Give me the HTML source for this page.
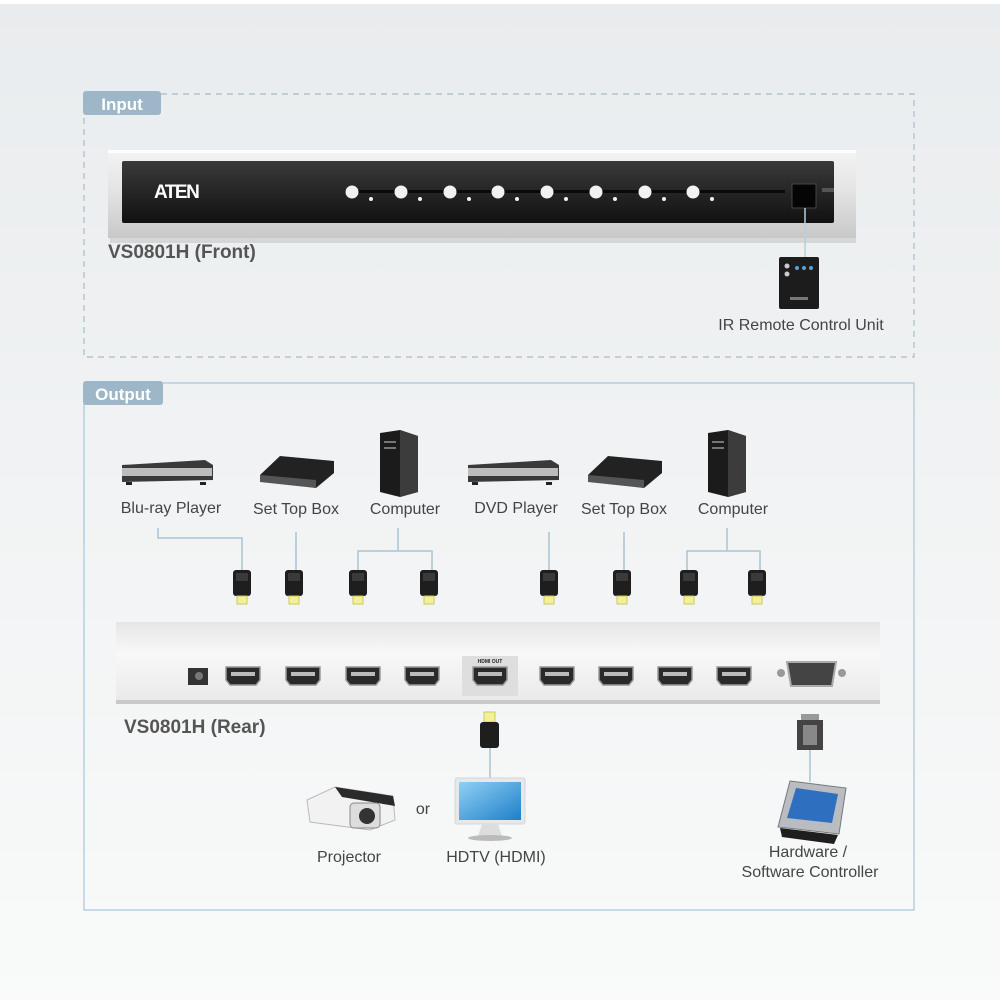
<!DOCTYPE html>
<html><head><meta charset="utf-8"><style>
html,body{margin:0;padding:0;width:1000px;height:1000px;overflow:hidden}
svg{display:block}
text{font-family:"Liberation Sans",sans-serif}
</style></head><body>
<svg width="1000" height="1000" viewBox="0 0 1000 1000" xmlns="http://www.w3.org/2000/svg">
<defs>
<linearGradient id="bg" x1="0" y1="0" x2="0" y2="1"><stop offset="0" stop-color="#e9ecee"/><stop offset="1" stop-color="#f9fafa"/></linearGradient>
<linearGradient id="silver" x1="0" y1="0" x2="0" y2="1"><stop offset="0" stop-color="#f4f4f4"/><stop offset="0.5" stop-color="#e2e2e2"/><stop offset="1" stop-color="#c8c8c8"/></linearGradient>
<linearGradient id="dark" x1="0" y1="0" x2="0" y2="1"><stop offset="0" stop-color="#3a3a3a"/><stop offset="1" stop-color="#111"/></linearGradient>
<linearGradient id="rear" x1="0" y1="0" x2="0" y2="1"><stop offset="0" stop-color="#e6e6e6"/><stop offset="0.4" stop-color="#f8f8f8"/><stop offset="1" stop-color="#e9e9e9"/></linearGradient>
<linearGradient id="scr" x1="0" y1="0" x2="1" y2="1"><stop offset="0" stop-color="#8fd0f5"/><stop offset="1" stop-color="#1f7fc8"/></linearGradient>
<g id="hdmi"><rect x="-9" y="-14" width="18" height="26" rx="3" fill="#1e1e1e"/><rect x="-6" y="-11" width="12" height="8" fill="#3a3a3a"/><rect x="-5" y="12" width="10" height="8" fill="#f3f09a" stroke="#cfc95a" stroke-width="1"/></g>
<g id="port"><path d="M-17,-9 H17 V4 L13,9 H-13 L-17,4 Z" fill="#2a2a2a" stroke="#999" stroke-width="1.5"/><rect x="-12" y="-4" width="24" height="4" fill="#bbb"/></g>
</defs>
<rect width="1000" height="1000" fill="url(#bg)"/>
<rect x="0" y="0" width="1000" height="4" fill="#fff"/>

<rect x="84" y="94" width="830" height="263" fill="none" stroke="#a9bccb" stroke-width="1.2" stroke-dasharray="6,5"/>
<rect x="83" y="91" width="78" height="24" rx="3" fill="#9db7c9"/>
<text x="122" y="110" font-size="17" font-weight="bold" fill="#fff" text-anchor="middle">Input</text>

<rect x="110" y="238" width="746" height="5" fill="#d4d6d8"/>
<rect x="108" y="150" width="748" height="88" fill="url(#silver)"/>
<rect x="108" y="150" width="748" height="3" fill="#fff"/>
<rect x="122" y="161" width="712" height="62" rx="2" fill="url(#dark)"/>
<text x="154" y="198" font-size="19" font-weight="bold" fill="#fff" letter-spacing="-1.5">ATEN</text>
<rect x="345" y="190" width="440" height="3" fill="#0a0a0a"/>
<g fill="#f2f2f2">
<circle cx="352" cy="192" r="6.5"/><circle cx="401" cy="192" r="6.5"/><circle cx="450" cy="192" r="6.5"/><circle cx="498" cy="192" r="6.5"/>
<circle cx="547" cy="192" r="6.5"/><circle cx="596" cy="192" r="6.5"/><circle cx="645" cy="192" r="6.5"/><circle cx="693" cy="192" r="6.5"/>
<circle cx="371" cy="199" r="2"/><circle cx="420" cy="199" r="2"/><circle cx="469" cy="199" r="2"/><circle cx="517" cy="199" r="2"/>
<circle cx="566" cy="199" r="2"/><circle cx="615" cy="199" r="2"/><circle cx="664" cy="199" r="2"/><circle cx="712" cy="199" r="2"/>
</g>
<rect x="792" y="184" width="24" height="24" fill="#050505" stroke="#444"/>
<rect x="822" y="188" width="12" height="4" fill="#555"/>
<text x="108" y="258" font-size="19" font-weight="bold" fill="#555">VS0801H (Front)</text>
<line x1="805" y1="208" x2="805" y2="258" stroke="#b8cfdc" stroke-width="1.5"/>
<rect x="779" y="257" width="40" height="52" rx="2" fill="#1c1c1c"/>
<circle cx="787" cy="266" r="2.5" fill="#ccc"/><circle cx="787" cy="274" r="2.5" fill="#ccc"/>
<g fill="#5aa0d0"><circle cx="797" cy="268" r="2"/><circle cx="804" cy="268" r="2"/><circle cx="811" cy="268" r="2"/></g>
<rect x="790" y="297" width="18" height="3" fill="#777"/>
<text x="801" y="330" font-size="16" fill="#444" text-anchor="middle">IR Remote Control Unit</text>

<rect x="84" y="383" width="830" height="527" fill="none" stroke="#a9c6d8" stroke-width="1.2"/>
<rect x="83" y="381" width="80" height="24" rx="3" fill="#9db7c9"/>
<text x="123" y="400" font-size="17" font-weight="bold" fill="#fff" text-anchor="middle">Output</text>

<g id="bd"><path d="M122,465 L205,460 L213,465 L213,480 L122,482 Z" fill="#3a3a3a"/><rect x="122" y="468" width="90" height="8" fill="#bdbdbd"/><rect x="126" y="482" width="6" height="3" fill="#222"/><rect x="200" y="482" width="6" height="3" fill="#222"/></g>
<path d="M260,475 L280,456 L334,461 L334,473 L316,488 L260,480 Z" fill="#222"/><path d="M260,475 L316,480 L316,488 L260,482Z" fill="#555"/>
<path d="M380,433 L400,430 L418,436 L418,492 L400,497 L380,492 Z" fill="#1b1b1b"/><path d="M400,430 L418,436 L418,492 L400,497Z" fill="#3c3c3c"/><rect x="384" y="441" width="12" height="2" fill="#777"/><rect x="384" y="447" width="12" height="2" fill="#777"/>
<use href="#bd" transform="translate(346,0)"/>
<path d="M588,475 L608,456 L662,461 L662,473 L644,488 L588,480 Z" fill="#222"/><path d="M588,475 L644,480 L644,488 L588,482Z" fill="#555"/>
<path d="M708,433 L728,430 L746,436 L746,492 L728,497 L708,492 Z" fill="#1b1b1b"/><path d="M728,430 L746,436 L746,492 L728,497Z" fill="#3c3c3c"/><rect x="712" y="441" width="12" height="2" fill="#777"/><rect x="712" y="447" width="12" height="2" fill="#777"/>

<g font-size="16" fill="#444" text-anchor="middle">
<text x="171" y="513">Blu-ray Player</text><text x="296" y="514">Set Top Box</text><text x="405" y="514">Computer</text>
<text x="516" y="513">DVD Player</text><text x="624" y="514">Set Top Box</text><text x="733" y="514">Computer</text>
</g>
<g stroke="#a9c3d3" stroke-width="1.5" fill="none">
<path d="M158,528 V538 H242 V570"/><path d="M296,532 V570"/><path d="M398,528 V551 M358,570 V551 H432 V570"/>
<path d="M549,532 V570"/><path d="M624,532 V570"/><path d="M727,528 V551 M687,570 V551 H760 V570"/>
</g>
<use href="#hdmi" transform="translate(242,584)"/><use href="#hdmi" transform="translate(294,584)"/><use href="#hdmi" transform="translate(358,584)"/><use href="#hdmi" transform="translate(429,584)"/>
<use href="#hdmi" transform="translate(549,584)"/><use href="#hdmi" transform="translate(622,584)"/><use href="#hdmi" transform="translate(689,584)"/><use href="#hdmi" transform="translate(757,584)"/>

<rect x="116" y="622" width="764" height="80" fill="url(#rear)"/>
<rect x="116" y="700" width="764" height="4" fill="#c9c9c9"/>
<rect x="188" y="668" width="20" height="17" fill="#333"/><circle cx="199" cy="676" r="4" fill="#777"/>
<rect x="462" y="656" width="56" height="40" fill="#dedede"/>
<text x="490" y="663" font-size="5" font-weight="bold" fill="#222" text-anchor="middle">HDMI OUT</text>
<use href="#port" transform="translate(243,676)"/><use href="#port" transform="translate(303,676)"/><use href="#port" transform="translate(363,676)"/><use href="#port" transform="translate(422,676)"/>
<use href="#port" transform="translate(490,676)"/>
<use href="#port" transform="translate(557,676)"/><use href="#port" transform="translate(616,676)"/><use href="#port" transform="translate(675,676)"/><use href="#port" transform="translate(734,676)"/>
<circle cx="781" cy="673" r="4" fill="#999"/><circle cx="842" cy="673" r="4" fill="#999"/>
<path d="M787,662 H836 L832,686 H791 Z" fill="#444" stroke="#aaa" stroke-width="2"/>
<text x="124" y="733" font-size="19" font-weight="bold" fill="#555">VS0801H (Rear)</text>

<rect x="484" y="712" width="11" height="10" fill="#f3f09a" stroke="#cfc95a"/>
<rect x="480" y="722" width="19" height="26" rx="3" fill="#1e1e1e"/>
<line x1="490" y1="748" x2="490" y2="778" stroke="#a9c3d3" stroke-width="1.5"/>
<rect x="455" y="778" width="70" height="46" rx="2" fill="#e8e8e8" stroke="#cfd8de"/>
<rect x="459" y="782" width="62" height="38" fill="url(#scr)"/>
<path d="M482,824 H498 L502,836 H478 Z" fill="#ddd"/><ellipse cx="490" cy="838" rx="22" ry="3" fill="#bbb"/>
<text x="496" y="862" font-size="16" fill="#444" text-anchor="middle">HDTV (HDMI)</text>
<text x="423" y="814" font-size="16" fill="#444" text-anchor="middle">or</text>
<path d="M307,800 L335,787 L393,796 L395,820 L370,830 L310,822 Z" fill="#f2f2f2" stroke="#bbb"/>
<path d="M335,787 L393,796 L395,806 L342,797Z" fill="#2a2a2a"/>
<rect x="350" y="803" width="30" height="25" rx="4" fill="#ddd" stroke="#888"/><circle cx="367" cy="816" r="8" fill="#333"/>
<text x="349" y="862" font-size="16" fill="#444" text-anchor="middle">Projector</text>
<rect x="801" y="714" width="18" height="6" fill="#999"/>
<rect x="797" y="720" width="26" height="30" fill="#444"/><rect x="803" y="725" width="14" height="20" fill="#888"/>
<line x1="810" y1="750" x2="810" y2="782" stroke="#a9c3d3" stroke-width="1.5"/>
<path d="M780,828 L838,835 L834,844 L782,837 Z" fill="#1e1e1e"/>
<path d="M790,781 L846,788 L839,834 L778,827 Z" fill="#b9bcc0" stroke="#777"/>
<path d="M796,788 L838,794 L832,823 L787,818 Z" fill="#2f6fc0"/>
<text x="808" y="857" font-size="16" fill="#444" text-anchor="middle">Hardware /</text>
<text x="810" y="877" font-size="16" fill="#444" text-anchor="middle">Software Controller</text>
</svg>
</body></html>
